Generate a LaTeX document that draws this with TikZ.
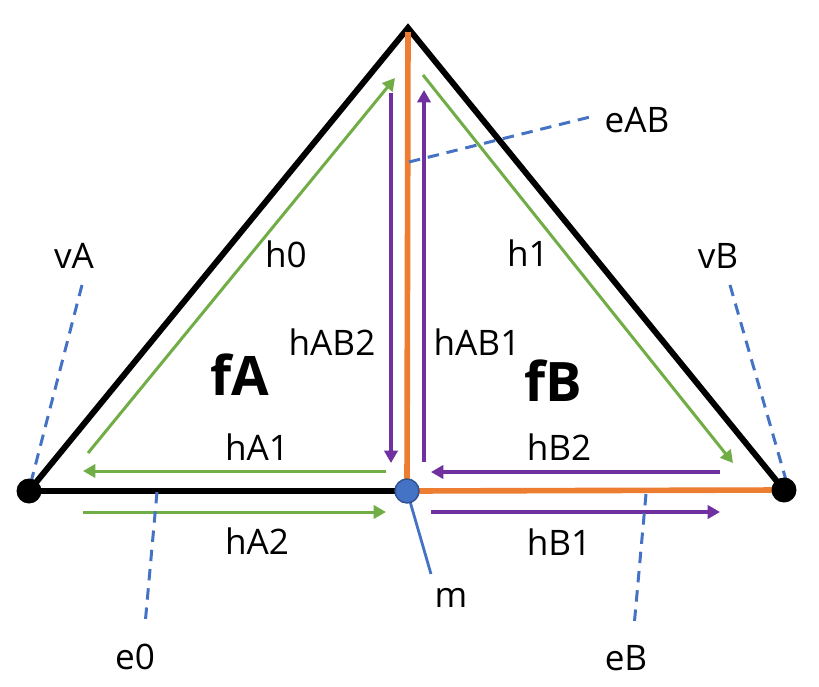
\documentclass[tikz,border=0pt]{standalone}
\usepackage{fontspec}
\setmainfont{Open Sans}
\usetikzlibrary{arrows.meta}
\definecolor{he-green}{RGB}{112,173,71}
\definecolor{he-purple}{RGB}{112,48,160}
\definecolor{he-blue}{RGB}{68,114,196}
\definecolor{he-navy}{RGB}{47,82,143}
\definecolor{he-orange}{RGB}{237,125,49}
\tikzset{
  he@edge/.style={line width=3.4pt, black},
  he@seam/.style={line width=3.2pt, he-orange},
  he@green/.style={-{Triangle[length=7pt,width=7.5pt]}, line width=1.7pt, he-green},
  he@purple/.style={-{Triangle[length=7pt,width=7.5pt]}, line width=1.8pt, he-purple},
  he@lead/.style={line width=1.7pt, he-blue, dash pattern=on 6.5pt off 4.5pt},
  he@lbl/.style={font=\fontsize{20}{24}\selectfont, inner sep=0pt},
  he@face/.style={font=\fontsize{31}{36}\selectfont\bfseries, inner sep=0pt},
  he@vert/.style={circle, fill=black, minimum size=0.5cm, inner sep=0pt},
  he@mid/.style={circle, fill=he-blue, draw=he-navy, line width=0.8pt, minimum size=0.48cm, inner sep=0pt},
}
\begin{document}
\begin{tikzpicture}[x=0.02cm, y=-0.02cm]
  \useasboundingbox (0,0) rectangle (819,687);
  % corners of the two faces
  \coordinate (pA)  at (29,491);
  \coordinate (pM)  at (407,491);
  \coordinate (pB)  at (784,490);
  \coordinate (top) at (408,28);
  \coordinate (seamtop) at (408,32);
  % edges
  \draw[he@edge] (pA) -- (top) -- (pB);
  \draw[he@edge] (pA) -- (pM);
  \draw[he@seam] (pM) -- (seamtop);
  \draw[he@seam] (pM) -- (pB);
  % half-edges of fA
  \coordinate (h0s)  at (88,453);   \coordinate (h0e)  at (395,78);
  \coordinate (hA1s) at (386,471);  \coordinate (hA1e) at (83,471);
  \coordinate (hA2s) at (83,512);   \coordinate (hA2e) at (386,512);
  \coordinate (hAB2s) at (391,93);  \coordinate (hAB2e) at (391,463);
  \draw[he@green]  (h0s)  -- (h0e);
  \draw[he@green]  (hA1s) -- (hA1e);
  \draw[he@green]  (hA2s) -- (hA2e);
  \draw[he@purple] (hAB2s) -- (hAB2e);
  % half-edges of fB
  \coordinate (h1s)  at (423,75);   \coordinate (h1e)  at (733,463);
  \coordinate (hB2s) at (720,472);  \coordinate (hB2e) at (431,472);
  \coordinate (hB1s) at (431,512);  \coordinate (hB1e) at (720,512);
  \coordinate (hAB1s) at (424,462); \coordinate (hAB1e) at (424,90);
  \draw[he@green]  (h1s)  -- (h1e);
  \draw[he@purple] (hB2s) -- (hB2e);
  \draw[he@purple] (hB1s) -- (hB1e);
  \draw[he@purple] (hAB1s) -- (hAB1e);
  % labels
  \node[he@lbl] (lvA)   at (74,256)  {vA};
  \node[he@lbl] (lvB)   at (718,256) {vB};
  \node[he@lbl] (lh0)   at (286,254) {h0};
  \node[he@lbl] (lh1)   at (528,253) {h1};
  \node[he@lbl] (lhAB2) at (332,342) {hAB2};
  \node[he@lbl] (lhAB1) at (477,342) {hAB1};
  \node[he@lbl] (lhA1)  at (257,447) {hA1};
  \node[he@lbl] (lhA2)  at (257,541) {hA2};
  \node[he@lbl] (lhB2)  at (559,447) {hB2};
  \node[he@lbl] (lhB1)  at (559,542) {hB1};
  \node[he@lbl] (leAB)  at (637,120) {eAB};
  \node[he@lbl] (le0)   at (135,657) {e0};
  \node[he@lbl] (leB)   at (626,658) {eB};
  \node[he@lbl] (lm)    at (451,598) {m};
  \node[he@face] (lfA)  at (240,375) {fA};
  \node[he@face] (lfB)  at (553,381) {fB};
  % leaders
  \coordinate (vAend)  at (82,285);
  \coordinate (vAtip)  at (30,486);
  \coordinate (vBend)  at (730,285);
  \coordinate (vBtip)  at (786,480);
  \coordinate (e0on)   at (157,492);
  \coordinate (e0end)  at (145,625);
  \coordinate (eBon)   at (646,494);
  \coordinate (eBend)  at (634,627);
  \coordinate (eABon)  at (409,162);
  \coordinate (eABend) at (590,117);
  \coordinate (mend)   at (431,574);
  \draw[he@lead] (vAend) -- (vAtip);
  \draw[he@lead] (vBend) -- (vBtip);
  \draw[he@lead] (e0on) -- (e0end);
  \draw[he@lead] (eBon) -- (eBend);
  \draw[he@lead] (eABon) -- (eABend);
  \draw[he-blue, line width=1.6pt] (pM) -- (mend);
  % vertices
  \node[he@vert] (vA) at (pA) {};
  \node[he@vert] (vB) at (pB) {};
  \node[he@mid]  (m)  at (pM) {};
\end{tikzpicture}
\end{document}
